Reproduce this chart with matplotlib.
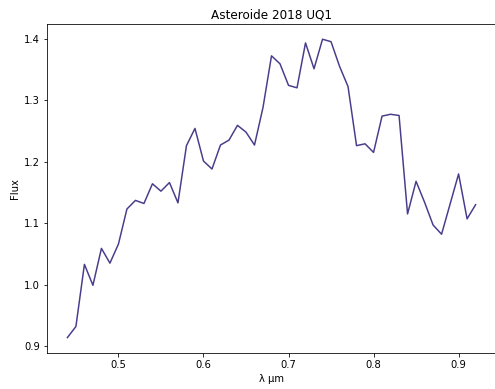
import numpy as np
import matplotlib
matplotlib.use('Agg')
import matplotlib.pyplot as plt

# wavelength (micron) and flux
wavelength = [0.44, 0.45, 0.46, 0.47, 0.48, 0.49, 0.50, 0.51, 0.52, 0.53,
              0.54, 0.55, 0.56, 0.57, 0.58, 0.59, 0.60, 0.61, 0.62, 0.63,
              0.64, 0.65, 0.66, 0.67, 0.68, 0.69, 0.70, 0.71, 0.72, 0.73,
              0.74, 0.75, 0.76, 0.77, 0.78, 0.79, 0.80, 0.81, 0.82, 0.83,
              0.84, 0.85, 0.86, 0.87, 0.88, 0.89, 0.90, 0.91, 0.92]
flux = [0.914, 0.932, 1.033, 0.999, 1.059, 1.035, 1.066, 1.123, 1.137, 1.132,
        1.164, 1.152, 1.166, 1.133, 1.226, 1.254, 1.201, 1.188, 1.227, 1.235,
        1.259, 1.248, 1.227, 1.288, 1.372, 1.359, 1.324, 1.320, 1.393, 1.351,
        1.399, 1.395, 1.355, 1.322, 1.226, 1.229, 1.215, 1.274, 1.277, 1.275,
        1.115, 1.168, 1.134, 1.097, 1.082, 1.131, 1.180, 1.107, 1.130]

dpi = 72
fig = plt.figure(figsize=(495 / dpi, 389 / dpi), dpi=dpi)
ax = fig.add_axes([47 / 495, 1 - 352.5 / 389, 449 / 495, (352.5 - 24.3) / 389])

ax.plot(wavelength, flux, color='darkslateblue', linewidth=1.5)
ax.set_title('Asteroide 2018 UQ1', fontsize=12)
ax.set_xlabel('λ µm', fontsize=10)
ax.set_ylabel('Flux', fontsize=10)
ax.tick_params(labelsize=10)

fig.savefig('out.png', dpi=dpi)
